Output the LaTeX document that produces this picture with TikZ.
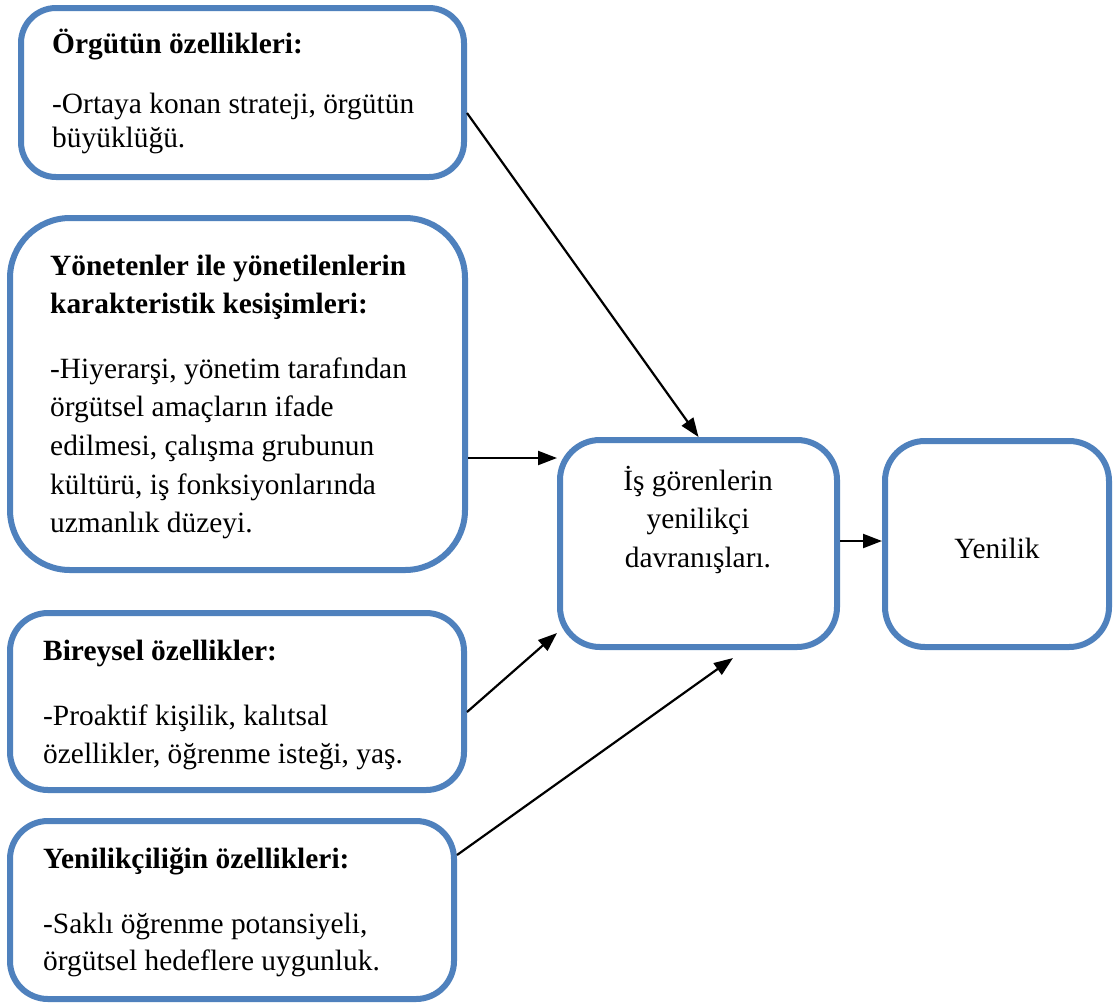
\documentclass[tikz,border=0pt]{standalone}
\usepackage{fontspec}
\setmainfont{Liberation Serif}
\usetikzlibrary{arrows.meta}
\definecolor{boxblue}{RGB}{79,129,189}
\newcommand\blkL[2]{\vtop{\baselineskip=#1\relax\lineskiplimit=-100pt\halign{##\hfil\cr#2\crcr}}}
\newcommand\blkC[2]{\vtop{\baselineskip=#1\relax\lineskiplimit=-100pt\halign{\hfil##\hfil\cr#2\crcr}}}
\begin{document}
\begin{tikzpicture}[x=1pt,y=-1pt,
  box/.style={draw=boxblue, line width=6pt, fill=white, inner sep=0pt},
  txt/.style={inner sep=0pt, font=\fontsize{29.4}{34}\selectfont},
  arr/.style={line width=2.2pt, -{Triangle[length=19pt,width=14pt]}}]
\useasboundingbox (0,0) rectangle (1113,1005);
\fill[white] (0,0) rectangle (1113,1005);
% boxes
\node[box, rounded corners=35pt, minimum width=443pt, minimum height=169pt] (b1) at (242.5,92.5) {};
\node[box, rounded corners=60pt, minimum width=455pt, minimum height=352pt] (b2) at (237.5,394) {};
\node[box, rounded corners=38pt, minimum width=454pt, minimum height=177pt] (b3) at (237,701.5) {};
\node[box, rounded corners=38pt, minimum width=444pt, minimum height=178pt] (b4) at (232,910) {};
\node[box, rounded corners=40pt, minimum width=277pt, minimum height=207pt] (c) at (698.5,543.5) {};
\node[box, rounded corners=40pt, minimum width=224pt, minimum height=206pt] (y) at (997,544) {};
% texts
\node[txt, anchor=base west] (t1h) at (52,53) {\bfseries Örgütün özellikleri:};
\node[txt, anchor=base west] (t1b) at (52,113) {\blkL{34pt}{-Ortaya konan strateji, örgütün\cr büyüklüğü.}};
\node[txt, anchor=base west] (t2h) at (50,275) {\bfseries\blkL{38pt}{Yönetenler ile yönetilenlerin\cr karakteristik kesişimleri:}};
\node[txt, anchor=base west] (t2b) at (50,378) {\blkL{38.7pt}{-Hiyerarşi, yönetim tarafından\cr örgütsel amaçların ifade\cr edilmesi, çalışma grubunun\cr kültürü, iş fonksiyonlarında\cr uzmanlık düzeyi.}};
\node[txt, anchor=base west] (t3h) at (43,660) {\bfseries Bireysel özellikler:};
\node[txt, anchor=base west] (t3b) at (43,725) {\blkL{38pt}{-Proaktif kişilik, kalıtsal\cr özellikler, öğrenme isteği, yaş.}};
\node[txt, anchor=base west] (t4h) at (43,868) {\bfseries Yenilikçiliğin özellikleri:};
\node[txt, anchor=base west] (t4b) at (43,933) {\blkL{37pt}{-Saklı öğrenme potansiyeli,\cr örgütsel hedeflere uygunluk.}};
\node[txt, anchor=base] (tc) at (698,490) {\blkC{38.5pt}{İş görenlerin\cr yenilikçi\cr davranışları.}};
\node[txt, anchor=base] (ty) at (997,558) {Yenilik};
% arrows
\draw[arr] ([yshift=-20.5pt]b1.east) -- (c.north);
\draw[arr] ([yshift=-64pt]b2.east) -- ([yshift=85.5pt]c.west);
\draw[arr] ([yshift=-10.5pt]b3.east) -- ([yshift=-89.5pt]c.west);
\draw[arr] ([yshift=55pt]b4.east) -- ([xshift=34.5pt,yshift=-8pt]c.south);
\draw[arr] ([yshift=2.5pt]c.east) -- ([yshift=2.5pt]c.east -| y.west);
\end{tikzpicture}
\end{document}
